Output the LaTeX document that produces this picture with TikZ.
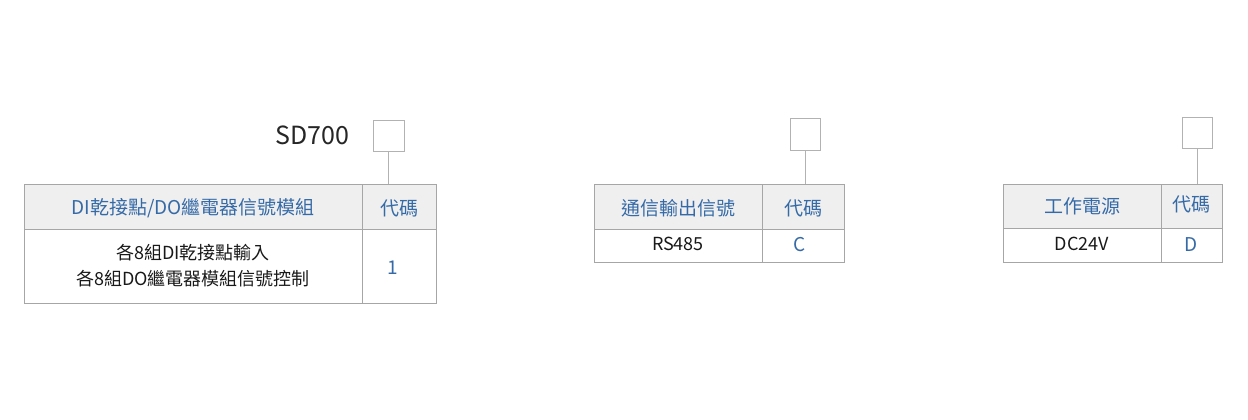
\documentclass[tikz,border=0pt]{standalone}
\usepackage{fontspec}
\setmainfont{Noto Sans CJK TC}
\begin{document}
\begin{tikzpicture}[x=1pt,y=-1pt,
  cell/.style={draw=gray!70,line width=0.8pt},
  hdr/.style={cell,fill=blue!4!gray!12},
  blu/.style={text=cyan!50!blue!80!black,font=\fontsize{19}{22}\selectfont},
  blk/.style={text=black!90,font=\fontsize{18}{26}\selectfont,align=center},
  sbox/.style={draw=gray!60,line width=0.8pt},
  lnk/.style={draw=gray!60,line width=0.8pt}]
\useasboundingbox (0,0) rectangle (1248,420);
% left
\node[anchor=east,font=\fontsize{25}{28}\selectfont,text=black!85] (sd) at (353,135) {SD700};
\draw[hdr] (24,184) rectangle (436,229);
\draw[cell] (24,229) rectangle (436,303);
\draw[cell] (362,184) -- (362,303);
\draw[sbox] (373,120) rectangle (404,151);
\coordinate (b1) at (388.5,151); \coordinate (t1) at (388.5,184);
\draw[lnk] (b1) -- (t1);
\node[blu] (h1) at (193,208) {DI乾接點/DO繼電器信號模組};
\node[blu] (c1) at (399,208) {代碼};
\node[blk] (d1) at (193,266) {各8組DI乾接點輸入\\各8組DO繼電器模組信號控制};
\node[blu] (v1) at (393,268) {1};
% middle
\draw[hdr] (594,184) rectangle (844,229);
\draw[cell] (594,229) rectangle (844,262);
\draw[cell] (762,184) -- (762,262);
\draw[sbox] (790,118) rectangle (820,150);
\coordinate (b2) at (805,150); \coordinate (t2) at (805,184);
\draw[lnk] (b2) -- (t2);
\node[blu] (h2) at (678,208) {通信輸出信號};
\node[blu] (c2) at (803,208) {代碼};
\node[blk] (d2) at (678,244) {RS485};
\node[blu] (v2) at (800,245) {C};
% right
\draw[hdr] (1003,184) rectangle (1222,228);
\draw[cell] (1003,228) rectangle (1222,262);
\draw[cell] (1161,184) -- (1161,262);
\draw[sbox] (1182,117) rectangle (1212,148);
\coordinate (b3) at (1197,148); \coordinate (t3) at (1197,184);
\draw[lnk] (b3) -- (t3);
\node[blu] (h3) at (1082,206) {工作電源};
\node[blu] (c3) at (1191,204) {代碼};
\node[blk] (d3) at (1082,244) {DC24V};
\node[blu] (v3) at (1191,245) {D};
\end{tikzpicture}
\end{document}
